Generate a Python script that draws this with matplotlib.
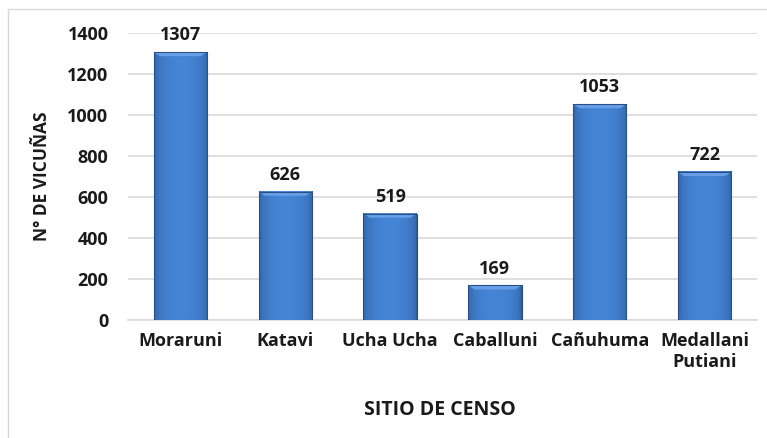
import matplotlib.pyplot as plt
from matplotlib.patches import Rectangle, Polygon
import numpy as np

# ---------- data ----------
sitios = ["Moraruni", "Katavi", "Ucha Ucha", "Caballuni", "Cañuhuma", "Medallani\nPutiani"]
vicunas = [1307, 626, 519, 169, 1053, 722]
y_ticks = [0, 200, 400, 600, 800, 1000, 1200, 1400]

plt.rcParams['font.family'] = ['Open Sans', 'DejaVu Sans']
plt.rcParams['font.weight'] = 'bold'

fig = plt.figure(figsize=(7.67, 4.38), dpi=100)
ax = fig.add_axes([128/767, 1 - 320/438, 629/767, 287/438])

x = np.arange(len(sitios))
bars = ax.bar(x, vicunas, width=0.51, color="none", edgecolor="none", zorder=3)

# cylinder-like horizontal gradient for each bar
dark = np.array([0x2c, 0x5a, 0x98]) / 255
light = np.array([0x45, 0x85, 0xd6]) / 255
t = np.linspace(0, 1, 64)
w = np.sin(np.pi * t) ** 0.35
grad = dark[None, :] * (1 - w[:, None]) + light[None, :] * w[:, None]
grad = grad[None, :, :]

for b in bars:
    x0, h, bw = b.get_x(), b.get_height(), b.get_width()
    ax.imshow(grad, extent=[x0, x0 + bw, 0, h], aspect="auto", zorder=3,
              interpolation="bilinear")
    # top bevel
    bev_x = bw * 0.12
    bev_y = 20
    ax.add_patch(Polygon([[x0, h], [x0 + bw, h], [x0 + bw - bev_x, h - bev_y],
                          [x0 + bev_x, h - bev_y]], closed=True,
                         facecolor="#67a0e8", edgecolor="none", zorder=4))
    ax.add_patch(Rectangle((x0, 0), bw, h, facecolor="none",
                           edgecolor="#2a4f85", linewidth=0.8, zorder=5))
    ax.text(x0 + bw / 2, h + 38, str(int(h)), ha="center", va="bottom",
            fontsize=13, fontweight="bold", color="#1a1a1a", zorder=6)

ax.set_xlim(-0.5, len(sitios) - 0.5)
ax.set_ylim(0, 1400)
ax.set_yticks(y_ticks)
ax.set_xticks(x)
ax.set_xticklabels(sitios, fontsize=13, fontweight="bold", color="#1a1a1a",
                   linespacing=1.2)
ax.tick_params(axis="y", labelsize=13, colors="#1a1a1a", length=0, pad=14)
ax.tick_params(axis="x", length=0, pad=9)
ax.yaxis.grid(True, color="#d9d9d9", linewidth=1.2, zorder=0)
ax.set_axisbelow(True)
for s in ["top", "right", "left"]:
    ax.spines[s].set_visible(False)
ax.spines["bottom"].set_color("#d9d9d9")
ax.spines["bottom"].set_linewidth(1.2)

fig.text(42/767, 1 - 176/438, "N° DE VICUÑAS", rotation=90, ha="center", va="center",
         fontsize=12.5, fontweight="bold", color="#1a1a1a")
fig.text(440/767, 1 - 410/438, "SITIO DE CENSO", ha="center", va="center",
         fontsize=14, fontweight="bold", color="#1a1a1a")

# outer chart border (cropped on right and bottom)
fig.patches.append(Rectangle((8/767, -0.1), 1.2, 1 - 9/438 + 0.1,
                             transform=fig.transFigure, fill=False,
                             edgecolor="#d9d9d9", linewidth=1.0))

fig.savefig("out.png", dpi=100)
